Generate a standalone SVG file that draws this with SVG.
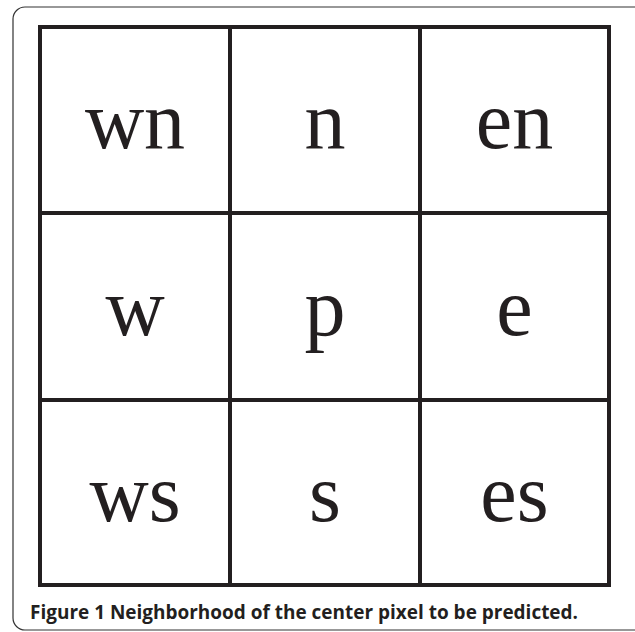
<svg xmlns="http://www.w3.org/2000/svg" width="635" height="632" viewBox="0 0 635 632">
<style>
.cell{fill:#fff;stroke:#231f20;stroke-width:4}
.lbl{font-family:"Liberation Serif","Times New Roman",serif;font-size:82px;fill:#231f20;text-anchor:middle}
.cap{font-family:"Open Sans","Noto Sans",sans-serif;font-weight:bold;font-size:20px;fill:#231f20}
</style>
<rect x="13" y="7" width="640" height="623" rx="12" fill="#fff" stroke="#333" stroke-width="1.2"/>
<g id="nodes">
<g id="wn"><rect class="cell" x="40" y="27" width="190" height="186"/><text class="lbl" x="135" y="148">wn</text></g>
<g id="n"><rect class="cell" x="230" y="27" width="190" height="186"/><text class="lbl" x="325" y="148">n</text></g>
<g id="en"><rect class="cell" x="420" y="27" width="189" height="186"/><text class="lbl" x="514.5" y="148">en</text></g>
<g id="w"><rect class="cell" x="40" y="213" width="190" height="187"/><text class="lbl" x="135" y="335">w</text></g>
<g id="p"><rect class="cell" x="230" y="213" width="190" height="187"/><text class="lbl" x="325" y="335">p</text></g>
<g id="e"><rect class="cell" x="420" y="213" width="189" height="187"/><text class="lbl" x="514.5" y="335">e</text></g>
<g id="ws"><rect class="cell" x="40" y="400" width="190" height="185"/><text class="lbl" x="135" y="521">ws</text></g>
<g id="s"><rect class="cell" x="230" y="400" width="190" height="185"/><text class="lbl" x="325" y="521">s</text></g>
<g id="es"><rect class="cell" x="420" y="400" width="189" height="185"/><text class="lbl" x="514.5" y="521">es</text></g>
</g>
<g id="connectors"></g>
<text class="cap" x="30" y="619" textLength="548" lengthAdjust="spacingAndGlyphs">Figure 1 Neighborhood of the center pixel to be predicted.</text>
</svg>
